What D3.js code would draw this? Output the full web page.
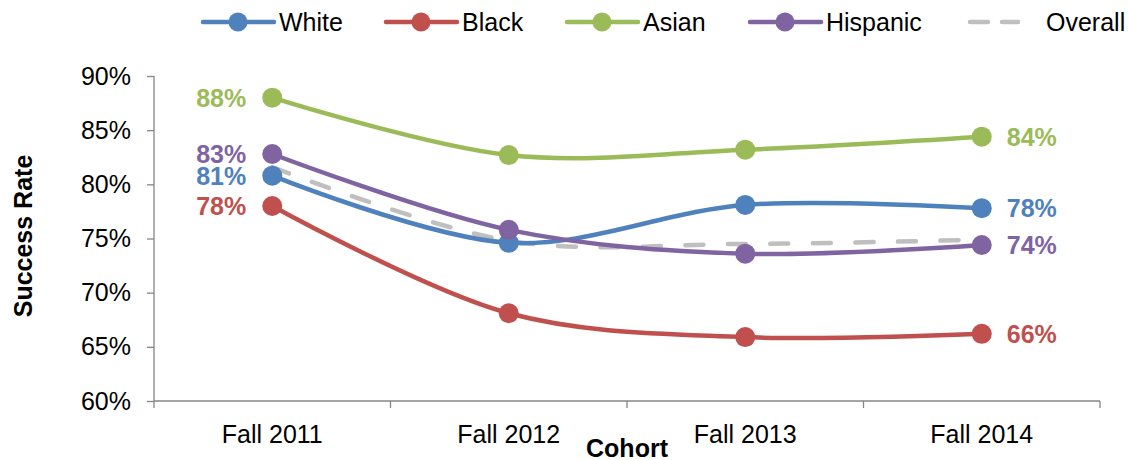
<!DOCTYPE html>
<html>
<head>
<meta charset="UTF-8">
<script src="https://cdn.jsdelivr.net/npm/d3@7/dist/d3.min.js"></script>
<style>
body{
    margin:0;
    background-color:#fff;
    font-family:"Liberation Sans", Arial, Helvetica, sans-serif;
}
.axis path, .axis line{
    stroke:#868686;
    stroke-width:1.3;
}
.axis text{
    font-size:25px;
    fill:#000;
}
</style>
</head>
<body>
<script>

var cohorts = ["Fall 2011","Fall 2012","Fall 2013","Fall 2014"];
var white    = [80.8, 74.6, 78.1, 77.8];
var black    = [78.0, 68.1, 65.9, 66.2];
var asian    = [88.0, 82.7, 83.2, 84.4];
var hispanic = [82.8, 75.8, 73.6, 74.4];
var overall  = [81.6, 74.8, 74.5, 74.9];
var yTicks   = [60, 65, 70, 75, 80, 85, 90];

var series = [
    {name:"White",    values:white,    color:"#4F81BD"},
    {name:"Black",    values:black,    color:"#C0504D"},
    {name:"Asian",    values:asian,    color:"#9BBB59"},
    {name:"Hispanic", values:hispanic, color:"#8064A2"},
    {name:"Overall",  values:overall,  color:"#BFBFBF", dashed:true}
];

var width = 1128, height = 460;
var margin = {top: 76, right: 28, bottom: 59, left: 154};

var x = d3.scaleBand().domain(cohorts).range([margin.left, width - margin.right]);
var y = d3.scaleLinear().domain([60, 90]).range([height - margin.bottom, margin.top]);

var svg = d3.select("body").append("svg")
    .attr("width", width)
    .attr("height", height);

// x axis: ticks sit between the categories
var gX = svg.append("g")
    .attr("class","axis")
    .attr("transform","translate(0," + y(60) + ")")
    .call(d3.axisBottom(x).tickSize(0).tickPadding(24));
gX.select(".domain").attr("d", "M" + margin.left + ",0H" + (width - margin.right));
gX.selectAll(".sep")
    .data(cohorts.concat([null]))
    .enter().append("line")
    .attr("class","sep")
    .attr("x1", function(d,i){ return margin.left + i * x.step(); })
    .attr("x2", function(d,i){ return margin.left + i * x.step(); })
    .attr("y1", 0).attr("y2", 7);

var gY = svg.append("g")
    .attr("class","axis")
    .attr("transform","translate(" + margin.left + ",0)")
    .call(d3.axisLeft(y).tickValues(yTicks).tickSize(7).tickPadding(16)
        .tickFormat(function(d){ return d + "%"; }));
gY.select(".domain").attr("d", "M0," + y(90) + "V" + y(60));

// axis titles
svg.append("text")
    .attr("x", 627).attr("y", 457)
    .attr("text-anchor","middle")
    .attr("font-size", 25).attr("font-weight","bold")
    .text("Cohort");

svg.append("text")
    .attr("transform","translate(32," + 236 + ") rotate(-90)")
    .attr("text-anchor","middle")
    .attr("font-size", 25).attr("font-weight","bold")
    .text("Success Rate");

var line = d3.line()
    .x(function(d,i){ return x(cohorts[i]) + x.bandwidth()/2; })
    .y(function(d){ return y(d); })
    .curve(d3.curveCatmullRom.alpha(0.5));

// draw overall first so it sits under the others
var order = [4, 0, 1, 2, 3];
order.forEach(function(k){
    var s = series[k];
    svg.append("path")
        .datum(s.values)
        .attr("fill","none")
        .attr("stroke", s.color)
        .attr("stroke-width", 4.5)
        .attr("stroke-linecap", s.dashed ? "round" : "butt")
        .attr("stroke-dasharray", s.dashed ? "18,24.5" : null)
        .attr("d", line);
    if (!s.dashed) {
        svg.selectAll(".pt" + k)
            .data(s.values)
            .enter().append("circle")
            .attr("cx", function(d,i){ return x(cohorts[i]) + x.bandwidth()/2; })
            .attr("cy", function(d){ return y(d); })
            .attr("r", 10)
            .attr("fill", s.color);
    }
});

// end labels
series.slice(0,4).forEach(function(s){
    var n = s.values.length;
    svg.append("text")
        .attr("x", x(cohorts[0]) + x.bandwidth()/2 - 26)
        .attr("y", y(s.values[0]))
        .attr("dy","0.36em")
        .attr("text-anchor","end")
        .attr("font-size", 25).attr("font-weight","bold")
        .attr("fill", s.color)
        .text(Math.round(s.values[0]) + "%");
    svg.append("text")
        .attr("x", x(cohorts[n-1]) + x.bandwidth()/2 + 25)
        .attr("y", y(s.values[n-1]))
        .attr("dy","0.36em")
        .attr("text-anchor","start")
        .attr("font-size", 25).attr("font-weight","bold")
        .attr("fill", s.color)
        .text(Math.round(s.values[n-1]) + "%");
});

// legend
var legendX = [203, 386, 567, 750, 968];
var legend = svg.selectAll(".legend")
    .data(series)
    .enter().append("g")
    .attr("transform", function(d,i){ return "translate(" + legendX[i] + ",22)"; });

legend.append("line")
    .attr("x1", function(d){ return d.dashed ? 2 : 0; })
    .attr("x2", function(d){ return d.dashed ? 50 : 71; })
    .attr("y1", 0).attr("y2", 0)
    .attr("stroke", function(d){ return d.color; })
    .attr("stroke-width", 4.5)
    .attr("stroke-linecap", "round")
    .attr("stroke-dasharray", function(d){ return d.dashed ? "18,14" : null; });

legend.filter(function(d){ return !d.dashed; })
    .append("circle")
    .attr("cx", 35).attr("cy", 0).attr("r", 9.5)
    .attr("fill", function(d){ return d.color; });

legend.append("text")
    .attr("x", function(d){ return d.dashed ? 78 : 76; })
    .attr("y", 0)
    .attr("dy","0.36em")
    .attr("font-size", 25)
    .text(function(d){ return d.name; });

</script>
</body>
</html>
